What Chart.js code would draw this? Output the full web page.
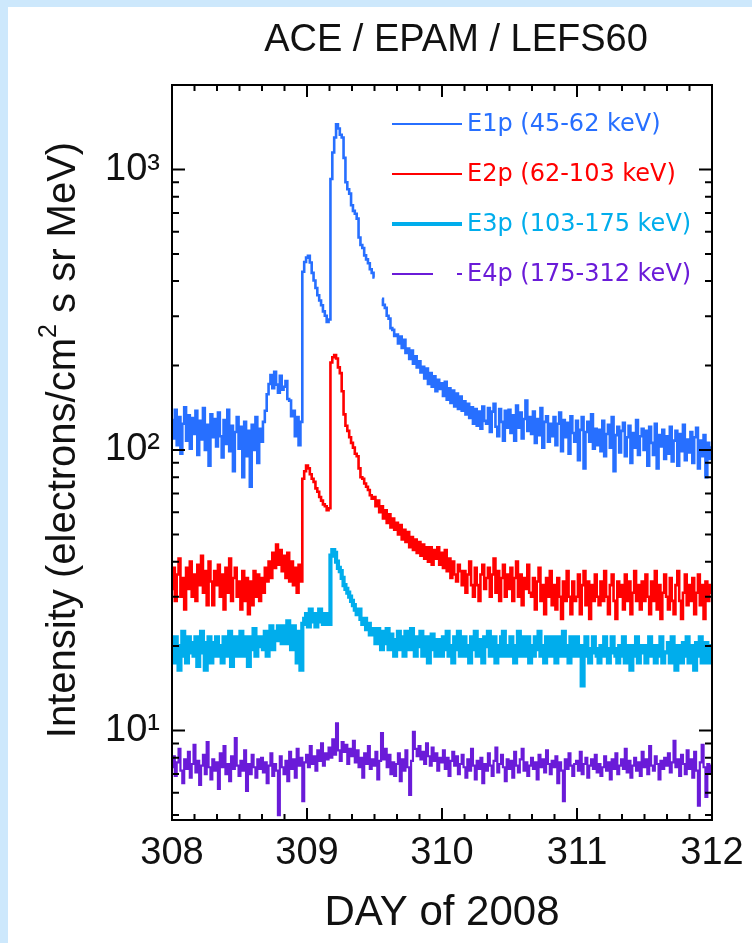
<!DOCTYPE html>
<html>
<head>
<meta charset="utf-8">
<script src="https://cdn.jsdelivr.net/npm/chart.js@4.4.1/dist/chart.umd.min.js"></script>
<style>
  body { margin: 0; background: #cde8fc; }
  #panel { position: absolute; left: 8px; top: 7px; width: 744px; height: 936px; background: #fff; }
  #grafico { position: absolute; left: 0; top: 0; }
</style>
</head>
<body>
<div id="panel"></div>
<canvas id="grafico" width="752" height="943"></canvas>
<script>
// 20-minute samples from day 308.0 to 312.0 (289 per channel)
const diaInicio = 308;
const pasoHoras = 1 / 3;

const e1p = [
  128, 110, 139, 104, 131, 97, 124, 142, 108, 133, 101, 130,
  114, 138, 96, 127, 109, 141, 100, 123, 88, 134, 111, 129,
  103, 136, 112, 94, 128, 105, 139, 99, 122, 84, 116, 131,
  101, 121, 80, 126, 95, 117, 74, 123, 100, 131, 90, 119,
  107, 126, 138, 158, 172, 185, 166, 190, 171, 160, 184, 164,
  168, 176, 152, 150, 132, 138, 112, 131, 104, 126, 432, 468,
  485, 492, 466, 428, 402, 378, 356, 341, 328, 312, 301, 286,
  292, 925, 1150, 1300, 1450, 1400, 1330, 1300, 1100, 900, 850, 820,
  745, 712, 695, 668, 572, 538, 525, 494, 478, 463, 441, 428,
  412, null, null, null, 346, 329, 321, 301, 294, 272, 268, 255,
  258, 240, 254, 231, 247, 222, 230, 211, 226, 203, 216, 197,
  207, 189, 198, 180, 195, 172, 188, 168, 183, 162, 178, 165,
  173, 156, 175, 151, 166, 147, 163, 143, 159, 140, 155, 138,
  149, 134, 146, 130, 142, 124, 140, 122, 137, 119, 143, 127,
  124, 141, 116, 137, 146, 121, 112, 140, 126, 108, 138, 120,
  139, 115, 133, 108, 144, 120, 136, 110, 129, 150, 117, 131,
  114, 137, 106, 129, 113, 141, 102, 126, 132, 107, 124, 112,
  131, 104, 124, 136, 99, 128, 111, 125, 97, 132, 115, 107,
  127, 92, 118, 131, 86, 116, 126, 107, 134, 101, 119, 104,
  118, 99, 127, 95, 114, 123, 102, 131, 84, 113, 121, 98,
  117, 125, 95, 111, 122, 90, 115, 102, 128, 96, 112, 119,
  100, 117, 88, 121, 106, 96, 124, 86, 113, 103, 118, 93,
  112, 97, 121, 91, 108, 117, 88, 114, 99, 123, 92, 109,
  98, 116, 90, 111, 120, 86, 108, 95, 113, 80, 106, 93,
  102
];

const e2p = [
  32, 38, 29, 36, 41, 30, 35, 27, 38, 32, 40, 30,
  36, 29, 39, 33, 42, 31, 37, 28, 40, 34, 28, 37,
  33, 39, 30, 36, 27, 38, 31, 41, 29, 35, 38, 30,
  34, 27, 37, 29, 35, 26, 34, 28, 37, 30, 36, 29,
  35, 31, 38, 34, 40, 35, 43, 38, 46, 39, 44, 37,
  42, 35, 43, 34, 40, 33, 38, 31, 39, 34, 79, 84,
  88, 86, 82, 79, 77, 73, 71, 68, 66, 64, 63, 61,
  62, 205, 214, 218, 212, 197, 188, 162, 134, 122, 117, 111,
  106, 102, 97, 95, 86, 80, 79, 76, 74, 72, 69, 67,
  68, 63, 66, 60, 63, 57, 61, 55, 59, 53, 57, 52,
  55, 50, 54, 48, 52, 47, 51, 45, 49, 44, 48, 43,
  47, 42, 46, 41, 45, 40, 45, 39, 44, 41, 45, 39,
  43, 38, 44, 37, 41, 35, 40, 36, 34, 39, 37, 33,
  37, 31, 36, 40, 33, 30, 38, 33, 29, 36, 39, 32,
  35, 38, 30, 36, 41, 31, 37, 29, 35, 39, 30, 36,
  32, 38, 29, 35, 40, 30, 36, 28, 35, 32, 39, 31,
  30, 35, 27, 34, 38, 29, 33, 26, 35, 30, 37, 28,
  33, 27, 35, 30, 25, 34, 29, 37, 30, 26, 34, 29,
  30, 36, 26, 33, 37, 28, 34, 25, 33, 29, 36, 30,
  28, 34, 29, 37, 30, 26, 33, 36, 29, 25, 34, 30,
  33, 27, 36, 29, 34, 26, 31, 37, 29, 33, 27, 34,
  29, 36, 30, 26, 34, 29, 37, 27, 33, 25, 31, 36,
  30, 27, 35, 29, 26, 33, 37, 29, 25, 31, 36, 28,
  33, 29, 35, 26, 31, 36, 28, 33, 25, 34, 29, 33,
  31
];

const e3p = [
  20, 17.5, 21.5, 19, 16.5, 20, 22.5, 18.5, 17.5, 21.5, 19, 20.5,
  18.5, 21.5, 17, 20, 22.5, 19, 16.5, 20.5, 21.5, 17.5, 20.5, 18.5,
  21.5, 18.5, 20, 17.5, 21.5, 20, 18.5, 22.5, 17, 20, 21.5, 18.5,
  20, 22.5, 18.5, 21.5, 20, 17, 21.5, 19.5, 23, 18.5, 21.5, 20,
  21.5, 19.5, 22.5, 18.5, 21.5, 23.5, 19.5, 22.5, 21, 23.5, 22, 20.5,
  23.5, 20.5, 24.5, 21.5, 19.5, 23.5, 20.5, 17.5, 22.5, 16.5, 24, 25,
  26, 23.5, 27, 24.5, 26, 23.5, 25.5, 27, 24.5, 24, 26, 25,
  24, 42, 44, 43, 40, 38, 37, 35, 33, 32, 31, 30,
  29, 28, 27, 26, 27, 25, 24, 25, 23, 24, 22, 23,
  22, 20.5, 23, 21.5, 19.5, 22.5, 20.5, 23, 19.5, 22, 21, 18.5,
  21, 22.5, 19.5, 21.5, 18.5, 22.5, 19.5, 21, 23, 19.5, 18.5, 21.5,
  20, 22.5, 18.5, 21.5, 19.5, 17.5, 21.5, 22, 19.5, 18.5, 21, 20,
  18.5, 21.5, 19.5, 22.5, 18.5, 20, 17.5, 21.5, 19.5, 22.5, 18.5, 20,
  21.5, 18.5, 20, 17.5, 21.5, 19.5, 22.5, 18.5, 21, 20, 17.5, 21.5,
  20, 22.5, 18.5, 20, 21.5, 17.5, 20, 18.5, 21.5, 22.5, 18.5, 20,
  18.5, 21.5, 19.5, 17.5, 20, 22.5, 18.5, 21.5, 19.5, 18.5, 21.5, 17.5,
  20, 18.5, 21.5, 19.5, 22.5, 18.5, 20, 17.5, 21.5, 19.5, 18.5, 21.5,
  20, 17.5, 21.5, 18.5, 20, 22.5, 18.5, 20, 17.5, 21.5, 19.5, 18.5,
  21.5, 18.5, 20, 14.5, 18.5, 21.5, 19.5, 17.5, 19, 21.5, 19.5, 18.5,
  17.5, 20, 18.5, 21.5, 19.5, 17.5, 19, 21.5, 19.5, 18.5, 17.5, 20,
  18.5, 21.5, 17.5, 20, 18.5, 16.5, 20, 18.5, 21.5, 17.5, 20, 19,
  20, 17.5, 19, 21.5, 18.5, 20, 17.5, 20, 18.5, 21.5, 17.5, 19,
  19, 20.5, 17.5, 21.5, 18.5, 16.5, 20, 19, 17.5, 20.5, 18.5, 21.5,
  17.5, 20, 19, 16.5, 20.5, 18.5, 21.5, 17.5, 19, 20.5, 17.5, 20,
  19
];

const e4p = [
  7.4, 8.1, 6.9, 7.7, 8.6, 7.2, 6.5, 7.9, 7.3, 8.4, 6.8, 7.6,
  8.9, 7.1, 7.8, 6.4, 7.5, 8.2, 7.0, 9.1, 7.4, 6.7, 7.9, 7.2,
  7.7, 6.2, 8.3, 7.4, 8.8, 7.0, 7.6, 6.6, 8.1, 7.3, 9.4, 7.5,
  6.9, 7.8, 7.2, 8.5, 6.1, 7.6, 7.0, 8.2, 7.4, 6.8, 7.9, 7.3,
  8.0, 7.1, 7.7, 6.5, 7.5, 8.3, 6.9, 7.6, 7.2, 5.0, 8.1, 7.4,
  7.0, 7.8, 6.6, 8.4, 7.3, 7.9, 6.8, 8.6, 7.5, 8.0, 5.6, 7.7,
  8.2, 7.4, 8.8, 7.6, 8.1, 7.2, 8.5, 7.8, 9.0, 7.5, 8.3, 7.9,
  8.7, 8.0, 9.3, 8.2, 10.6, 8.5, 7.8, 9.1, 8.4, 8.9, 7.6, 8.6,
  8.1, 9.2, 7.7, 8.5, 7.4, 8.0, 6.8, 8.3, 7.6, 8.8, 7.3, 7.9,
  7.5, 8.4, 6.7, 7.8, 9.8, 7.9, 8.6, 7.4, 8.2, 7.0, 7.7, 6.9,
  7.6, 8.3, 6.6, 7.9, 7.2, 8.5, 7.4, 5.9, 7.8, 9.9, 8.6, 8.1,
  8.8, 7.9, 8.4, 7.6, 9.0, 8.1, 7.5, 8.7, 7.8, 8.3, 7.2, 8.0,
  7.7, 8.5, 7.3, 8.0, 6.9, 7.8, 8.4, 7.5, 8.1, 7.0, 7.6, 8.2,
  7.4, 6.8, 7.9, 7.2, 8.6, 7.5, 6.7, 7.8, 7.3, 8.0, 6.5, 7.6,
  7.2, 8.3, 7.5, 6.9, 7.8, 8.7, 7.1, 7.6, 8.2, 7.4, 6.6, 7.9,
  7.3, 7.8, 6.8, 8.4, 7.5, 7.1, 7.9, 8.6, 7.2, 7.7, 6.9, 7.5,
  8.0, 7.3, 7.7, 6.7, 8.2, 7.4, 7.9, 7.1, 8.5, 7.6, 7.0, 7.8,
  7.4, 8.1, 6.5, 7.7, 7.2, 5.6, 7.9, 7.3, 8.3, 7.5, 6.9, 7.6,
  7.8, 7.2, 8.4, 7.0, 7.6, 8.0, 6.8, 7.5, 7.9, 7.3, 8.2, 7.1,
  7.6, 6.9, 7.4, 8.1, 7.2, 7.7, 6.7, 7.9, 7.3, 8.3, 7.0, 7.5,
  7.9, 7.3, 8.6, 7.1, 7.8, 6.8, 7.5, 8.0, 7.2, 7.7, 6.9, 8.4,
  7.4, 7.9, 7.0, 8.8, 7.5, 7.2, 8.1, 7.6, 6.7, 7.8, 7.3, 8.0,
  7.5, 8.3, 7.1, 7.7, 9.2, 7.4, 7.9, 6.9, 8.2, 7.6, 7.0, 8.5,
  7.3, 7.9, 6.8, 8.4, 7.2, 5.4, 7.7, 8.9, 7.4, 5.8, 7.6, 7.1,
  7.5
];

const canales = ["E1p (45-62 keV)", "E2p (62-103 keV)", "E3p (103-175 keV)", "E4p (175-312 keV)"];
const colores = ["#276fff", "#ff0000", "#00adec", "#6a1bd8"];
const grosores = [2.6, 2.6, 4.2, 2.2];

const diasEje = [308, 309, 310, 311, 312];
const potenciasEje = [10, 100, 1000];
const menoresY = [5, 6, 7, 8, 9, 20, 30, 40, 50, 60, 70, 80, 90, 200, 300, 400, 500, 600, 700, 800, 900];
const horasMenor = 4;

const superindice = { 1: "\u00b9", 2: "\u00b2", 3: "\u00b3" };

function aPuntos(valores) {
    return valores.map((v, i) => ({ x: diaInicio + i * pasoHoras / 24, y: v }));
}

const marcoYTextos = {
    id: "marcoYTextos",
    afterDatasetsDraw(chart) {
        const { ctx, chartArea: a, scales: { x, y } } = chart;
        ctx.save();
        ctx.strokeStyle = "#000";
        ctx.lineWidth = 2;
        ctx.strokeRect(a.left, a.top, a.right - a.left, a.bottom - a.top);

        ctx.beginPath();
        const pasos = (diasEje[diasEje.length - 1] - diasEje[0]) * 24 / horasMenor;
        for (let k = 0; k <= pasos; k++) {
            const px = x.getPixelForValue(diasEje[0] + k * horasMenor / 24);
            const largo = (k * horasMenor) % 24 === 0 ? 12 : 6;
            ctx.moveTo(px, a.bottom); ctx.lineTo(px, a.bottom - largo);
            ctx.moveTo(px, a.top); ctx.lineTo(px, a.top + largo);
        }
        potenciasEje.forEach(v => {
            const py = y.getPixelForValue(v);
            ctx.moveTo(a.left, py); ctx.lineTo(a.left + 13, py);
            ctx.moveTo(a.right, py); ctx.lineTo(a.right - 13, py);
        });
        menoresY.forEach(v => {
            const py = y.getPixelForValue(v);
            ctx.moveTo(a.left, py); ctx.lineTo(a.left + 7, py);
            ctx.moveTo(a.right, py); ctx.lineTo(a.right - 7, py);
        });
        ctx.stroke();

        // leyenda dentro del area
        ctx.font = "24px 'DejaVu Sans'";
        ctx.textBaseline = "middle";
        ctx.textAlign = "left";
        chart.data.datasets.forEach((ds, i) => {
            const fy = 124 + i * 50;
            ctx.beginPath();
            ctx.strokeStyle = ds.borderColor;
            ctx.lineWidth = i === 2 ? 4 : 2;
            ctx.setLineDash(i === 3 ? [41, 24] : []);
            ctx.moveTo(392, fy);
            ctx.lineTo(462, fy);
            ctx.stroke();
            ctx.setLineDash([]);
            ctx.fillStyle = ds.borderColor;
            ctx.fillText(ds.label, 467, fy + 1);
        });

        // titulo
        ctx.fillStyle = "#111";
        ctx.textAlign = "center";
        ctx.font = "38px 'Liberation Sans'";
        ctx.fillText("ACE / EPAM / LEFS60", 456, 41);

        // titulo eje x
        ctx.font = "42px 'Liberation Sans'";
        ctx.fillText("DAY of 2008", (a.left + a.right) / 2, 913);

        // titulo eje y con superindice
        ctx.translate(64, 440);
        ctx.rotate(-Math.PI / 2);
        const partes = ["Intensity (electrons/cm", "2", " s sr MeV)"];
        const fuentes = ["40px 'Liberation Sans'", "25px 'Liberation Sans'", "40px 'Liberation Sans'"];
        let total = 0;
        partes.forEach((p, i) => { ctx.font = fuentes[i]; total += ctx.measureText(p).width; });
        let cx = -total / 2;
        ctx.textAlign = "left";
        partes.forEach((p, i) => {
            ctx.font = fuentes[i];
            ctx.fillText(p, cx, i === 1 ? -15 : 0);
            cx += ctx.measureText(p).width;
        });
        ctx.restore();
    }
};

const ctx = document.getElementById("grafico").getContext("2d");
new Chart(ctx, {
    type: "line",
    data: {
        datasets: [e1p, e2p, e3p, e4p].map((serie, i) => ({
            label: canales[i],
            data: aPuntos(serie),
            borderColor: colores[i],
            borderWidth: grosores[i],
            pointRadius: 0,
            stepped: "middle",
            spanGaps: false,
            fill: false
        }))
    },
    options: {
        responsive: false,
        animation: false,
        devicePixelRatio: 1,
        layout: { padding: { left: 0, top: 85, right: 40, bottom: 0 } },
        plugins: { legend: { display: false }, title: { display: false }, tooltip: { enabled: false } },
        scales: {
            x: {
                type: "linear",
                min: 308,
                max: 312,
                afterBuildTicks: s => { s.ticks = diasEje.map(v => ({ value: v })); },
                afterFit: s => { s.height = 123; s.paddingLeft = 0; s.paddingRight = 0; },
                grid: { display: false, drawTicks: false },
                border: { display: false },
                ticks: {
                    callback: v => String(v),
                    color: "#111",
                    padding: 15,
                    maxRotation: 0,
                    font: { family: "'Liberation Sans'", size: 38, lineHeight: 1 }
                }
            },
            y: {
                type: "logarithmic",
                min: 4.8,
                max: 2000,
                afterBuildTicks: s => { s.ticks = potenciasEje.map(v => ({ value: v })); },
                afterFit: s => { s.width = 172; s.paddingTop = 0; s.paddingBottom = 0; },
                grid: { display: false, drawTicks: false },
                border: { display: false },
                ticks: {
                    callback: v => "10" + superindice[Math.round(Math.log10(v))],
                    color: "#111",
                    padding: 12,
                    font: { family: "'Liberation Sans'", size: 38, lineHeight: 1 }
                }
            }
        }
    },
    plugins: [marcoYTextos]
});
</script>
</body>
</html>
